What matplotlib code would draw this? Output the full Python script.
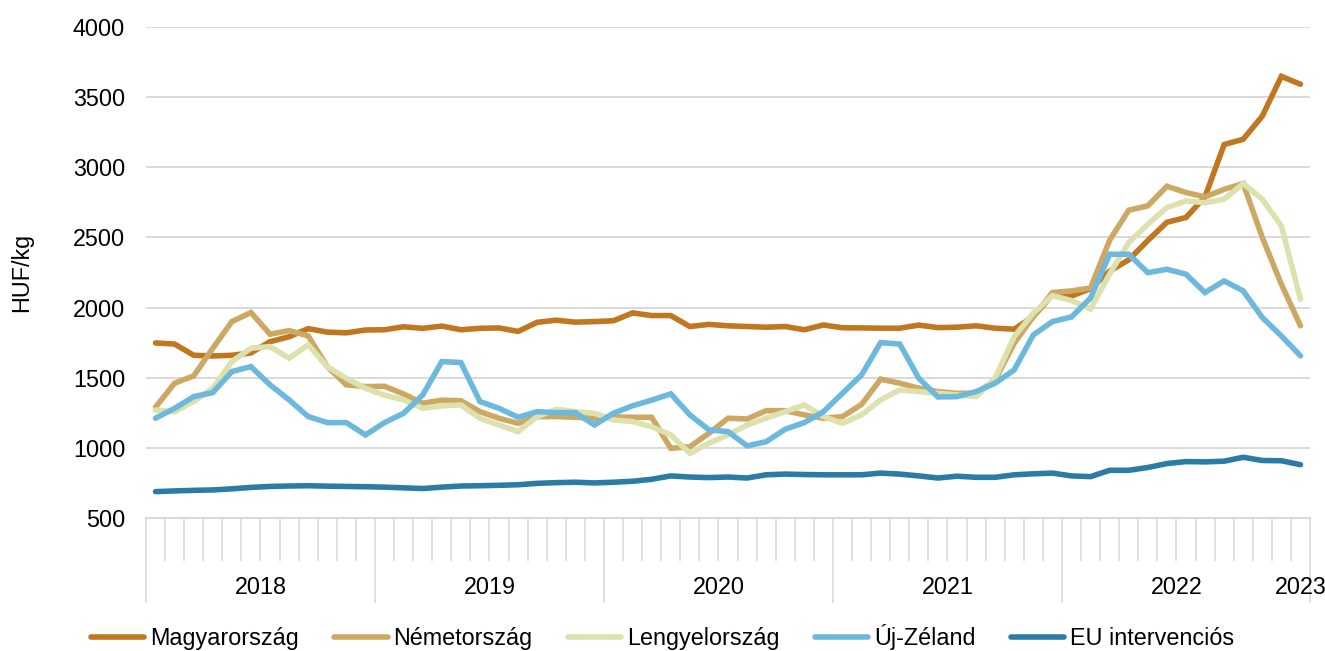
import matplotlib
matplotlib.use("Agg")
import matplotlib.pyplot as plt
import matplotlib.transforms as mtransforms
import numpy as np

plt.rcParams['font.family'] = ['Liberation Sans', 'DejaVu Sans']

years = ['2018', '2019', '2020', '2021', '2022', '2023']
months_per_year = [12, 12, 12, 12, 12, 1]

series_names = ['Magyarország', 'Németország', 'Lengyelország', 'Új-Zéland', 'EU intervenciós']

magyarorszag = [1748, 1740, 1660, 1655, 1660, 1677, 1757, 1792, 1850, 1825, 1820, 1840,
                1842, 1863, 1852, 1868, 1842, 1852, 1855, 1830, 1895, 1910, 1896, 1900,
                1906, 1962, 1943, 1943, 1865, 1880, 1870, 1865, 1860, 1865, 1842, 1876,
                1856, 1855, 1853, 1853, 1875, 1857, 1860, 1870, 1853, 1846, 1936, 2091,
                2082, 2135, 2260, 2340, 2478, 2608, 2642, 2790, 3162, 3200, 3365, 3648,
                3592]
nemetorszag = [1290, 1461, 1513, 1710, 1900, 1965, 1810, 1836, 1798, 1579, 1449, 1437,
               1439, 1384, 1318, 1340, 1336, 1258, 1211, 1175, 1223, 1223, 1218, 1211,
               1220, 1218, 1218, 997, 1008, 1104, 1211, 1206, 1265, 1265, 1235, 1211,
               1223, 1310, 1490, 1461, 1425, 1401, 1389, 1389, 1484, 1746, 1936, 2107,
               2119, 2140, 2480, 2694, 2725, 2865, 2820, 2789, 2843, 2884, 2499, 2166,
               1870]
lengyelorszag = [1270, 1258, 1330, 1425, 1615, 1710, 1722, 1639, 1734, 1579, 1496, 1425,
                 1375, 1342, 1282, 1300, 1306, 1211, 1163, 1116, 1223, 1275, 1258, 1247,
                 1199, 1187, 1151, 1092, 961, 1033, 1092, 1163, 1211, 1258, 1306, 1223,
                 1175, 1235, 1342, 1413, 1401, 1389, 1377, 1365, 1496, 1793, 1960, 2085,
                 2050, 1990, 2240, 2463, 2594, 2713, 2760, 2748, 2772, 2884, 2772, 2582,
                 2059]
uj_zeland = [1211, 1282, 1365, 1394, 1544, 1579, 1449, 1342, 1223, 1180, 1180, 1092,
             1180, 1247, 1377, 1615, 1608, 1330, 1282, 1218, 1258, 1251, 1251, 1163,
             1247, 1300, 1340, 1385, 1235, 1128, 1116, 1014, 1044, 1133, 1180, 1258,
             1389, 1520, 1750, 1740, 1496, 1363, 1365, 1401, 1461, 1556, 1805, 1900,
             1933, 2069, 2380, 2380, 2249, 2273, 2238, 2107, 2190, 2119, 1929, 1798,
             1656]
eu_intervencios = [688, 693, 697, 700, 708, 718, 725, 728, 730, 727, 725, 723,
                   720, 715, 710, 720, 728, 730, 733, 737, 747, 752, 755, 750,
                   755, 762, 776, 800, 792, 788, 792, 785, 808, 813, 810, 808,
                   808, 808, 820, 813, 800, 785, 798, 790, 790, 808, 815, 820,
                   800, 795, 840, 840, 860, 888, 902, 900, 905, 933, 910, 908,
                   880]

colors = ['#C0771F', '#CDA862', '#DDE1AE', '#6DB9DD', '#2A7CA7']
all_series = [magyarorszag, nemetorszag, lengyelorszag, uj_zeland, eu_intervencios]

FS = 16.8
W, H = 1325, 651
fig = plt.figure(figsize=(W / 100, H / 100), dpi=100)
ax = fig.add_axes([146 / W, 1 - 518 / H, (1310 - 146) / W, (518 - 27) / H])

n = len(magyarorszag)
x = np.arange(n)
for name, vals, c in zip(series_names, all_series, colors):
    ax.plot(x, vals, color=c, lw=4.0, label=name, solid_joinstyle='miter',
            solid_capstyle='round')

ax.set_ylim(500, 4000)
ax.set_xlim(-0.5, n - 0.5)
ax.set_yticks(range(500, 4001, 500))
ax.tick_params(axis='y', length=0, pad=15, labelsize=FS, labelcolor='#000000')
ax.grid(axis='y', color='#D9D9D9', lw=1.4)
ax.set_axisbelow(True)
for s in ['left', 'right', 'top']:
    ax.spines[s].set_visible(False)
ax.spines['bottom'].set_color('#D9D9D9')
ax.spines['bottom'].set_linewidth(1.4)

# month ticks (minor) and year separators (major)
bounds = np.arange(n + 1) - 0.5
starts = np.concatenate([[0], np.cumsum(months_per_year)])
year_bounds = [starts[k] - 0.5 for k in range(len(years) - 1)] + [n - 0.5]
minor = [b for b in bounds if b not in year_bounds]
ax.set_xticks(year_bounds)
ax.set_xticks(minor, minor=True)
ax.set_xticklabels([])
ax.tick_params(axis='x', which='major', length=61, width=1.1, color='#D9D9D9', direction='out')
ax.tick_params(axis='x', which='minor', length=31, width=1.1, color='#D9D9D9', direction='out')

trans = mtransforms.blended_transform_factory(ax.transData, ax.transAxes)
for k, yr in enumerate(years):
    s0 = starts[k]
    s1 = starts[k + 1]
    cx = (s0 + s1 - 1) / 2
    ax.text(cx, -(588 - 518) / (518 - 27), yr, transform=trans, ha='center', va='center',
            fontsize=FS)

fig.text(22 / W, 1 - 272 / H, 'HUF/kg', rotation=90, ha='center', va='center', fontsize=FS)

fig.legend(loc='center', bbox_to_anchor=(0.5, 1 - 637 / H), ncol=5, frameon=False,
           fontsize=FS, handlelength=2.3, handletextpad=0.25, columnspacing=1.5)

fig.savefig('out.png', dpi=100)
